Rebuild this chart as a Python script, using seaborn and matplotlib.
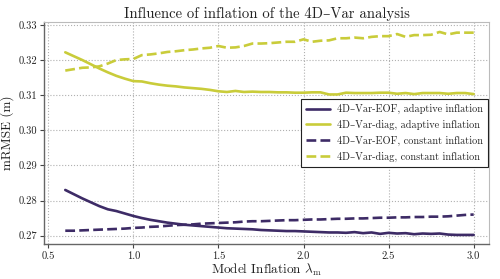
import numpy as np
import pandas as pd
import matplotlib
matplotlib.use("Agg")
import matplotlib.pyplot as plt
import seaborn as sns

# Model inflation values (x axis)
lam = [0.60, 0.65, 0.70, 0.75, 0.80, 0.85, 0.90, 0.95, 1.00, 1.05,
       1.10, 1.15, 1.20, 1.25, 1.30, 1.35, 1.40, 1.45, 1.50, 1.55,
       1.60, 1.65, 1.70, 1.75, 1.80, 1.85, 1.90, 1.95, 2.00, 2.05,
       2.10, 2.15, 2.20, 2.25, 2.30, 2.35, 2.40, 2.45, 2.50, 2.55,
       2.60, 2.65, 2.70, 2.75, 2.80, 2.85, 2.90, 2.95, 3.00]

eof_adaptive = [0.2830, 0.2818, 0.2806, 0.2795, 0.2784, 0.2775, 0.2770, 0.2763, 0.2756, 0.2750,
                0.2745, 0.2741, 0.2737, 0.2734, 0.2731, 0.2729, 0.2727, 0.2725, 0.2723, 0.2721,
                0.2720, 0.2719, 0.2718, 0.2716, 0.2715, 0.2714, 0.2713, 0.2713, 0.2712, 0.2711,
                0.2710, 0.2709, 0.2709, 0.2708, 0.2710, 0.2707, 0.2709, 0.2705, 0.2708, 0.2706,
                0.2707, 0.2704, 0.2706, 0.2705, 0.2706, 0.2703, 0.2702, 0.2702, 0.2702]

diag_adaptive = [0.3222, 0.3211, 0.3200, 0.3188, 0.3176, 0.3165, 0.3155, 0.3147, 0.3140, 0.3139,
                 0.3134, 0.3130, 0.3127, 0.3125, 0.3122, 0.3120, 0.3118, 0.3115, 0.3111, 0.3109,
                 0.3112, 0.3109, 0.3110, 0.3109, 0.3109, 0.3108, 0.3108, 0.3107, 0.3107, 0.3108,
                 0.3108, 0.3102, 0.3102, 0.3107, 0.3106, 0.3106, 0.3106, 0.3107, 0.3107, 0.3104,
                 0.3106, 0.3103, 0.3106, 0.3106, 0.3106, 0.3104, 0.3106, 0.3106, 0.3103]

eof_constant = [0.2714, 0.2714, 0.2715, 0.2716, 0.2717, 0.2718, 0.2719, 0.2720, 0.2722, 0.2723,
                0.2725, 0.2726, 0.2728, 0.2730, 0.2731, 0.2732, 0.2734, 0.2735, 0.2736, 0.2737,
                0.2738, 0.2740, 0.2741, 0.2741, 0.2742, 0.2743, 0.2744, 0.2744, 0.2745, 0.2746,
                0.2746, 0.2747, 0.2748, 0.2748, 0.2749, 0.2749, 0.2750, 0.2751, 0.2751, 0.2752,
                0.2752, 0.2753, 0.2753, 0.2754, 0.2754, 0.2755, 0.2757, 0.2759, 0.2760]

diag_constant = [0.3170, 0.3174, 0.3178, 0.3179, 0.3182, 0.3190, 0.3200, 0.3202, 0.3203, 0.3214,
                 0.3216, 0.3219, 0.3223, 0.3225, 0.3228, 0.3230, 0.3233, 0.3235, 0.3240, 0.3235,
                 0.3236, 0.3240, 0.3247, 0.3247, 0.3248, 0.3250, 0.3252, 0.3252, 0.3259, 0.3252,
                 0.3255, 0.3256, 0.3262, 0.3262, 0.3264, 0.3262, 0.3266, 0.3268, 0.3268, 0.3274,
                 0.3266, 0.3271, 0.3271, 0.3272, 0.3280, 0.3273, 0.3278, 0.3278, 0.3278]

labels = ["4D\u2013Var-EOF, adaptive inflation",
          "4D\u2013Var-diag, adaptive inflation",
          "4D\u2013Var-EOF, constant inflation",
          "4D\u2013Var-diag, constant inflation"]

purple = "#3d2b66"
yellow = "#c9cc3a"

sns.set_style("whitegrid", {"grid.linestyle": ":", "grid.color": "#b0b0b0"})
plt.rcParams["font.family"] = ["cmr10", "DejaVu Serif"]
plt.rcParams["mathtext.fontset"] = "cm"
plt.rcParams["axes.formatter.use_mathtext"] = True

fig = plt.figure(figsize=(5.0, 2.79), dpi=100)
ax = fig.add_axes([0.088, 0.124, 0.89, 0.798])

series = [(eof_adaptive, purple, "-"), (diag_adaptive, yellow, "-"),
          (eof_constant, purple, "--"), (diag_constant, yellow, "--")]
for (vals, col, ls), lab in zip(series, labels):
    sns.lineplot(x=lam, y=vals, ax=ax, color=col, linestyle=ls, linewidth=1.9, label=lab)

ax.set_xlim(0.475, 3.09)
ax.set_ylim(0.2675, 0.3309)
ax.set_xticks([0.5, 1.0, 1.5, 2.0, 2.5, 3.0])
ax.set_yticks([0.27, 0.28, 0.29, 0.30, 0.31, 0.32, 0.33])
ax.set_xticklabels(["0.5", "1.0", "1.5", "2.0", "2.5", "3.0"])
ax.set_yticklabels(["0.27", "0.28", "0.29", "0.30", "0.31", "0.32", "0.33"])
ax.grid(True, linestyle=":", color="#b0b0b0", linewidth=0.8)
ax.tick_params(axis="both", labelsize=7.6, length=3, width=0.8, colors="#444444",
               labelcolor="#222222", direction="out", left=True, bottom=True, pad=2)

for side in ["left", "bottom"]:
    ax.spines[side].set_color("#666666")
    ax.spines[side].set_linewidth(1.0)
for side in ["top", "right"]:
    ax.spines[side].set_color("#bbbbbb")
    ax.spines[side].set_linewidth(0.8)

ax.set_title("Influence of inflation of the 4D\u2013Var analysis", fontsize=10.6, pad=3, color="#222222")
ax.set_xlabel("Model Inflation $\\lambda_\\mathrm{m}$", fontsize=9.5, labelpad=0.5, color="#222222")
ax.set_ylabel("mRMSE (m)", fontsize=9.5, labelpad=3, color="#222222")

leg = ax.legend(loc="center right", fontsize=7.4, frameon=True, fancybox=False,
                borderaxespad=0.1, handlelength=2.3, handletextpad=0.7,
                labelspacing=0.55, borderpad=0.5)
leg.get_frame().set_edgecolor("#222222")
leg.get_frame().set_linewidth(0.8)
leg.get_frame().set_alpha(1.0)

fig.savefig("out.png", dpi=100)
